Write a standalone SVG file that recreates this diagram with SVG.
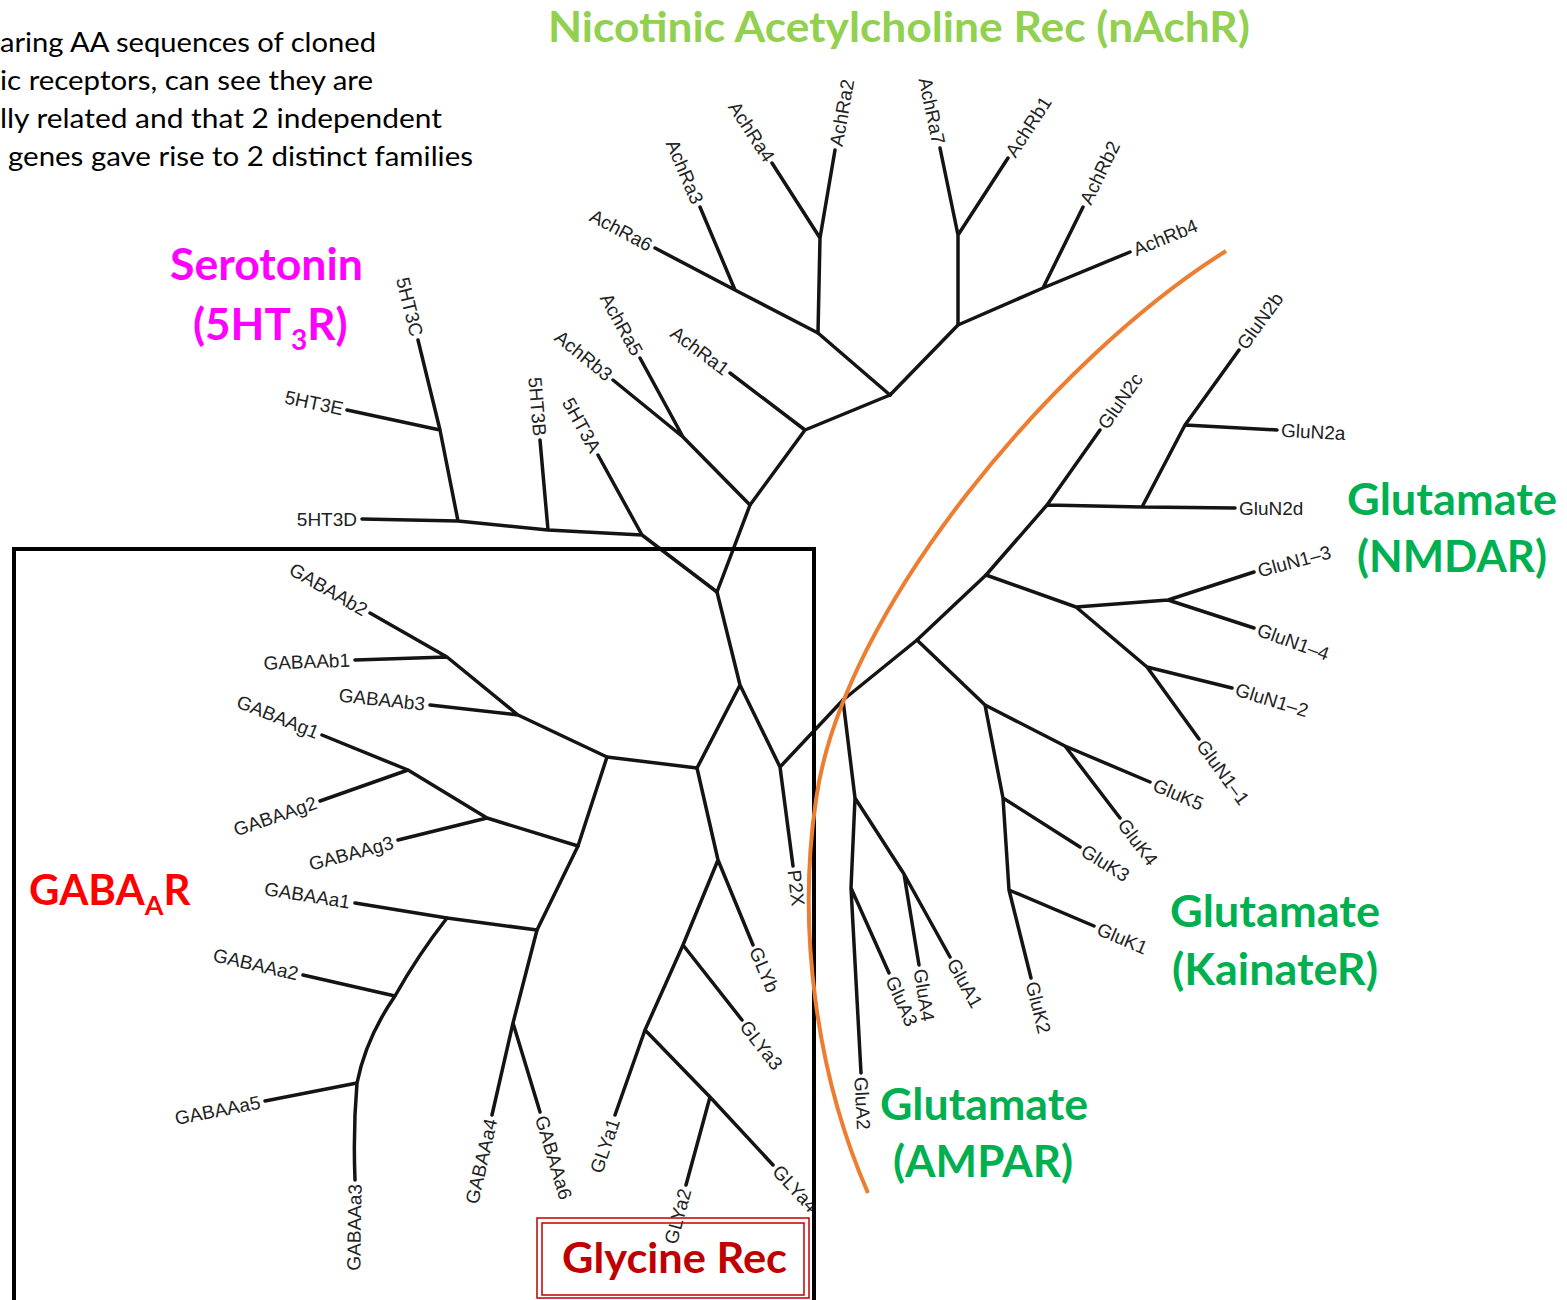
<svg xmlns="http://www.w3.org/2000/svg" width="1567" height="1300" viewBox="0 0 1567 1300">
  <defs>
    <style>
      .br { fill: none; stroke: #141414; stroke-width: 3.5; stroke-linecap: round; stroke-linejoin: round; }
      .lf { font-family: "Liberation Sans", Arial, sans-serif; font-size: 19px; fill: #222; }
      .note { font-family: Lato, "Noto Sans", sans-serif; font-size: 27px; fill: #000; }
      .big { font-family: Lato, "Noto Sans", sans-serif; font-weight: bold; }
      .nach { fill: #92D050; font-size: 42px; }
      .sero { fill: #FF00FF; font-size: 44px; }
      .glu { fill: #00B050; font-size: 44px; }
      .gaba { fill: #FF0000; font-size: 42px; }
      .gly { fill: #C00000; font-size: 42px; }
    </style>
    <clipPath id="insideBox">
      <rect x="0" y="0" width="812" height="1300"/>
    </clipPath>
  </defs>

  <rect width="1567" height="1300" fill="#ffffff"/>

  <!-- explanatory note (left part runs off the page) -->
  <g id="note">
    <text class="note" x="0" y="52" textLength="376" lengthAdjust="spacingAndGlyphs">aring AA sequences of cloned</text>
    <text class="note" x="0" y="90" textLength="373" lengthAdjust="spacingAndGlyphs">ic receptors, can see they are</text>
    <text class="note" x="0" y="128" textLength="442" lengthAdjust="spacingAndGlyphs">lly related and that 2 independent</text>
    <text class="note" x="8" y="166" textLength="465" lengthAdjust="spacingAndGlyphs">genes gave rise to 2 distinct families</text>
  </g>

  <!-- tree branches -->
  <g id="connectors" class="br">
    <!-- nAChR clade -->
    <path d="M835,150 L820,238 L772,163 M820,238 L818,333"/>
    <path d="M700,207 L735,290 L655,248 M735,290 L818,333 L890,395"/>
    <path d="M940,148 L958,235 L1008,158 M958,235 L958,325"/>
    <path d="M1083,207 L1043,288 L1130,252 M1043,288 L958,325 L890,395"/>
    <path d="M890,395 L805,430 L730,373 M805,430 L750,505"/>
    <path d="M640,358 L683,437 L613,380 M683,437 L750,505 L717,592"/>
    <!-- 5HT3 clade -->
    <path d="M418,340 L440,430 L347,410 M440,430 L458,521 L362,519 M458,521 L548,530 L540,440 M548,530 L642,535 L598,455 M642,535 L717,592"/>
    <!-- central stem -->
    <path d="M717,592 L740,685 L697,768 M740,685 L780,767 L793,866 M780,767 L843,700"/>
    <!-- GABA-A clade -->
    <path d="M697,768 L607,757 L518,715 L430,705 M518,715 L447,657 L355,660 M447,657 L370,613"/>
    <path d="M607,757 L578,846 L487,818 L398,840 M487,818 L408,770 L322,735 M408,770 L320,801"/>
    <path d="M578,846 L537,930 L447,918 L355,903"/>
    <path d="M447,918 Q418,955 395,996 L303,975 M395,996 Q366,1038 357,1083 L265,1101 M357,1083 Q353,1130 355,1180"/>
    <path d="M537,930 L513,1023 L492,1115 M513,1023 L540,1112"/>
    <!-- glycine clade -->
    <path d="M697,768 L718,860 L753,945 M718,860 L683,945 L742,1020 M683,945 L645,1030 L615,1115 M645,1030 L710,1097 L686,1185 M710,1097 L773,1165"/>
    <!-- AMPA clade -->
    <path d="M843,700 L855,798 L851,888 L861,1073 M851,888 L889,973 M855,798 L904,874 L919,965 M904,874 L950,957"/>
    <!-- kainate clade -->
    <path d="M843,700 L917,640 L985,705 L1065,746 L1150,782 M1065,746 L1120,818 M985,705 L1003,798 L1080,847 M1003,798 L1009,890 L1094,926 M1009,890 L1031,978"/>
    <!-- NMDA clade -->
    <path d="M917,640 L986,575 L1076,607 L1168,600 L1254,572 M1168,600 L1254,628 M1076,607 L1147,667 L1232,688 M1147,667 L1199,739"/>
    <path d="M986,575 L1047,505 L1100,430 M1047,505 L1142,507 L1235,508 M1142,507 L1185,425 L1277,430 M1185,425 L1239,350"/>
  </g>

  <!-- leaf labels -->
  <g id="leaves" class="lf">
    <g id="AchRa2"><text transform="translate(836,146) rotate(-80)" dy="0.35em">AchRa2</text></g>
    <g id="AchRa4"><text transform="translate(770,160) rotate(57)" dy="0.35em" text-anchor="end">AchRa4</text></g>
    <g id="AchRa3"><text transform="translate(698,203) rotate(67)" dy="0.35em" text-anchor="end">AchRa3</text></g>
    <g id="AchRa6"><text transform="translate(651,246) rotate(28)" dy="0.35em" text-anchor="end">AchRa6</text></g>
    <g id="AchRa7"><text transform="translate(939,144) rotate(78)" dy="0.35em" text-anchor="end">AchRa7</text></g>
    <g id="AchRb1"><text transform="translate(1010,155) rotate(-57)" dy="0.35em">AchRb1</text></g>
    <g id="AchRb2"><text transform="translate(1085,203) rotate(-64)" dy="0.35em">AchRb2</text></g>
    <g id="AchRb4"><text transform="translate(1134,250) rotate(-22)" dy="0.35em">AchRb4</text></g>
    <g id="AchRa1"><text transform="translate(727,371) rotate(37)" dy="0.35em" text-anchor="end">AchRa1</text></g>
    <g id="AchRa5"><text transform="translate(638,354) rotate(61)" dy="0.35em" text-anchor="end">AchRa5</text></g>
    <g id="AchRb3"><text transform="translate(610,377) rotate(39)" dy="0.35em" text-anchor="end">AchRb3</text></g>

    <g id="n5HT3C"><text transform="translate(417,336) rotate(76)" dy="0.35em" text-anchor="end">5HT3C</text></g>
    <g id="n5HT3E"><text transform="translate(343,409) rotate(12)" dy="0.35em" text-anchor="end">5HT3E</text></g>
    <g id="n5HT3D"><text transform="translate(357,519)" dy="0.35em" text-anchor="end">5HT3D</text></g>
    <g id="n5HT3B"><text transform="translate(540,436) rotate(85)" dy="0.35em" text-anchor="end">5HT3B</text></g>
    <g id="n5HT3A"><text transform="translate(596,451) rotate(61)" dy="0.35em" text-anchor="end">5HT3A</text></g>

    <g id="GABAAb2"><text transform="translate(366,611) rotate(30)" dy="0.35em" text-anchor="end">GABAAb2</text></g>
    <g id="GABAAb1"><text transform="translate(350,660) rotate(-2)" dy="0.35em" text-anchor="end">GABAAb1</text></g>
    <g id="GABAAb3"><text transform="translate(425,704) rotate(6)" dy="0.35em" text-anchor="end">GABAAb3</text></g>
    <g id="GABAAg1"><text transform="translate(318,733) rotate(22)" dy="0.35em" text-anchor="end">GABAAg1</text></g>
    <g id="GABAAg2"><text transform="translate(316,802) rotate(-19)" dy="0.35em" text-anchor="end">GABAAg2</text></g>
    <g id="GABAAg3"><text transform="translate(393,842) rotate(-15)" dy="0.35em" text-anchor="end">GABAAg3</text></g>
    <g id="GABAAa1"><text transform="translate(350,902) rotate(9)" dy="0.35em" text-anchor="end">GABAAa1</text></g>
    <g id="GABAAa2"><text transform="translate(298,974) rotate(13)" dy="0.35em" text-anchor="end">GABAAa2</text></g>
    <g id="GABAAa5"><text transform="translate(260,1102) rotate(-11)" dy="0.35em" text-anchor="end">GABAAa5</text></g>
    <g id="GABAAa3"><text transform="translate(355,1184) rotate(-89)" dy="0.35em" text-anchor="end">GABAAa3</text></g>
    <g id="GABAAa4"><text transform="translate(491,1119) rotate(-77)" dy="0.35em" text-anchor="end">GABAAa4</text></g>
    <g id="GABAAa6"><text transform="translate(541,1116) rotate(73)" dy="0.35em">GABAAa6</text></g>

    <g id="GLYb"><text transform="translate(755,948) rotate(67)" dy="0.35em">GLYb</text></g>
    <g id="GLYa3"><text transform="translate(744,1023) rotate(52)" dy="0.35em">GLYa3</text></g>
    <g id="GLYa1"><text transform="translate(614,1119) rotate(-71)" dy="0.35em" text-anchor="end">GLYa1</text></g>
    <g id="GLYa2"><text transform="translate(685,1189) rotate(-75)" dy="0.35em" text-anchor="end">GLYa2</text></g>
    <g id="GLYa4" clip-path="url(#insideBox)"><text transform="translate(776,1168) rotate(47)" dy="0.35em">GLYa4</text></g>

    <g id="P2X"><text transform="translate(794,870) rotate(83)" dy="0.35em">P2X</text></g>

    <g id="GluA2"><text transform="translate(861,1077) rotate(87)" dy="0.35em">GluA2</text></g>
    <g id="GluA3"><text transform="translate(891,977) rotate(66)" dy="0.35em">GluA3</text></g>
    <g id="GluA4"><text transform="translate(920,969) rotate(81)" dy="0.35em">GluA4</text></g>
    <g id="GluA1"><text transform="translate(952,960) rotate(61)" dy="0.35em">GluA1</text></g>
    <g id="GluK2"><text transform="translate(1032,982) rotate(76)" dy="0.35em">GluK2</text></g>
    <g id="GluK1"><text transform="translate(1098,928) rotate(23)" dy="0.35em">GluK1</text></g>
    <g id="GluK3"><text transform="translate(1083,849) rotate(32)" dy="0.35em">GluK3</text></g>
    <g id="GluK4"><text transform="translate(1122,821) rotate(53)" dy="0.35em">GluK4</text></g>
    <g id="GluK5"><text transform="translate(1154,784) rotate(23)" dy="0.35em">GluK5</text></g>
    <g id="GluN1-1"><text transform="translate(1201,742) rotate(54)" dy="0.35em">GluN1–1</text></g>
    <g id="GluN1-2"><text transform="translate(1236,689) rotate(17)" dy="0.35em">GluN1–2</text></g>
    <g id="GluN1-4"><text transform="translate(1258,629) rotate(20)" dy="0.35em">GluN1–4</text></g>
    <g id="GluN1-3"><text transform="translate(1258,571) rotate(-15)" dy="0.35em">GluN1–3</text></g>
    <g id="GluN2d"><text transform="translate(1239,508)" dy="0.35em">GluN2d</text></g>
    <g id="GluN2a"><text transform="translate(1281,430) rotate(3)" dy="0.35em">GluN2a</text></g>
    <g id="GluN2b"><text transform="translate(1241,347) rotate(-54)" dy="0.35em">GluN2b</text></g>
    <g id="GluN2c"><text transform="translate(1102,427) rotate(-55)" dy="0.35em">GluN2c</text></g>
  </g>

  <!-- GABA-A / glycine frame -->
  <rect id="gabaFrame" x="14" y="549" width="800" height="800" fill="none" stroke="#000" stroke-width="4"/>

  <!-- split between the two receptor families -->
  <path id="familySplit" d="M1226,251 C1056,357 842,610 816,800 C797,928 816,1074 868,1193" fill="none" stroke="#ED7D31" stroke-width="4"/>

  <!-- family headings -->
  <g id="nAChR-heading" class="big nach">
    <text x="548" y="42" textLength="702" lengthAdjust="spacingAndGlyphs">Nicotinic Acetylcholine Rec (nAchR)</text>
  </g>
  <g id="5HT3R-heading" class="big sero">
    <text x="170" y="280" textLength="193" lengthAdjust="spacingAndGlyphs">Serotonin</text>
    <text x="193" y="340">(5HT<tspan font-size="28" dy="10">3</tspan><tspan dy="-10">R)</tspan></text>
  </g>
  <g id="NMDAR-heading" class="big glu">
    <text x="1347" y="515" textLength="210" lengthAdjust="spacingAndGlyphs">Glutamate</text>
    <text x="1357" y="572" textLength="190" lengthAdjust="spacingAndGlyphs">(NMDAR)</text>
  </g>
  <g id="KainateR-heading" class="big glu">
    <text x="1170" y="927" textLength="210" lengthAdjust="spacingAndGlyphs">Glutamate</text>
    <text x="1172" y="985" textLength="206" lengthAdjust="spacingAndGlyphs">(KainateR)</text>
  </g>
  <g id="AMPAR-heading" class="big glu">
    <text x="880" y="1120" textLength="208" lengthAdjust="spacingAndGlyphs">Glutamate</text>
    <text x="893" y="1177" textLength="180" lengthAdjust="spacingAndGlyphs">(AMPAR)</text>
  </g>
  <g id="GABAAR-heading" class="big gaba">
    <text x="29" y="905">GABA<tspan font-size="27" dy="10">A</tspan><tspan dy="-10">R</tspan></text>
  </g>
  <g id="GlyR-heading">
    <rect x="537" y="1218" width="272" height="80" fill="none" stroke="#C00000" stroke-width="1.5"/>
    <rect x="542" y="1223" width="262" height="72" fill="none" stroke="#C00000" stroke-width="1.5"/>
    <text class="big gly" x="562" y="1273" textLength="225" lengthAdjust="spacingAndGlyphs">Glycine Rec</text>
  </g>
</svg>
